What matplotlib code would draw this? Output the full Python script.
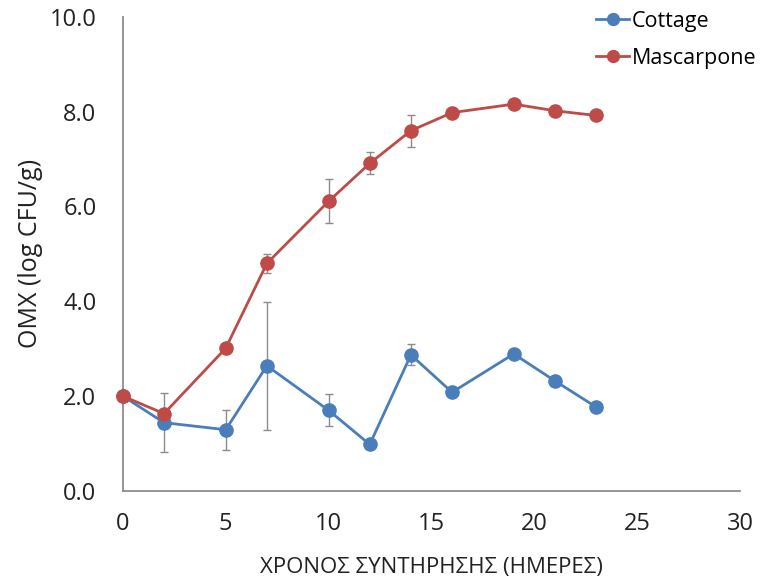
import matplotlib.pyplot as plt
from matplotlib.ticker import FormatStrFormatter

# Ημέρες συντήρησης
hmeres = [0, 2, 5, 7, 10, 12, 14, 16, 19, 21, 23]

cottage = [2.0, 1.44, 1.29, 2.64, 1.70, 0.98, 2.87, 2.08, 2.89, 2.32, 1.77]
cottage_err = [0, 0.63, 0.42, 1.35, 0.34, 0, 0.22, 0, 0, 0, 0]

mascarpone = [2.0, 1.63, 3.01, 4.80, 6.11, 6.91, 7.60, 7.98, 8.16, 8.02, 7.92]
mascarpone_err = [0, 0, 0, 0.2, 0.46, 0.23, 0.34, 0, 0, 0, 0]

plt.rcParams['font.family'] = ['Open Sans', 'DejaVu Sans']

fig = plt.figure(figsize=(7.63, 5.83), dpi=100)
ax = fig.add_axes([0.161, 0.158, 0.809, 0.813])

seires = [
    ("Cottage", cottage, cottage_err, "#4A7EBB"),
    ("Mascarpone", mascarpone, mascarpone_err, "#BE4B48"),
]
for nombre, valores, err, color in seires:
    ax.errorbar(hmeres, valores, yerr=err, fmt="none", ecolor="#8C8C8C",
                elinewidth=1, capsize=3, capthick=1, zorder=2)
    ax.plot(hmeres, valores, color=color, marker="o", markersize=9.5,
            linewidth=2, label=nombre, clip_on=False, zorder=3)

ax.set_xlim(0, 30)
ax.set_ylim(0, 10)
ax.set_xticks(range(0, 31, 5))
ax.set_yticks([0, 2, 4, 6, 8, 10])
ax.yaxis.set_major_formatter(FormatStrFormatter("%.1f"))
ax.tick_params(length=0, labelsize=17, colors="#222222")
ax.tick_params(axis="x", pad=15)
ax.tick_params(axis="y", pad=19)

for lado in ["top", "right"]:
    ax.spines[lado].set_visible(False)
for lado in ["left", "bottom"]:
    ax.spines[lado].set_color("#8C8C8C")
    ax.spines[lado].set_linewidth(1.3)

ax.set_xlabel("ΧΡΟΝΟΣ ΣΥΝΤΗΡΗΣΗΣ (ΗΜΕΡΕΣ)", fontsize=16, color="#222222", labelpad=15)
ax.set_ylabel("ΟΜΧ (log CFU/g)", fontsize=18, color="#222222", labelpad=5)

fig.legend(loc="upper right", bbox_to_anchor=(1.017, 1.015), frameon=False,
           fontsize=15.5, handlelength=1.5, handletextpad=0.15, labelspacing=0.75,
           markerscale=0.9)

fig.savefig("out.png", dpi=100)
